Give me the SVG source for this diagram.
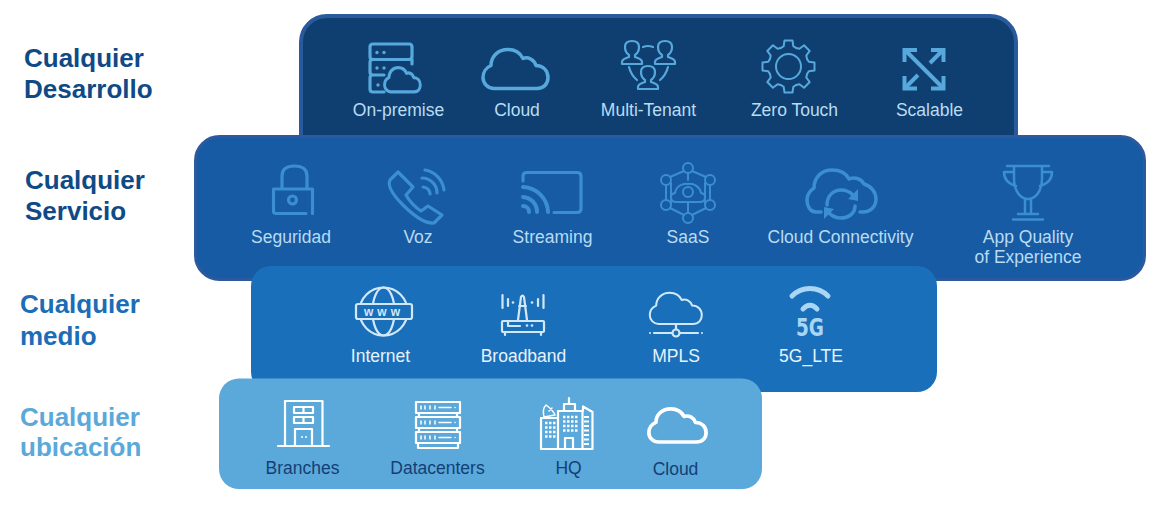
<svg xmlns="http://www.w3.org/2000/svg" width="1163" height="505" viewBox="0 0 1163 505">
<style>
text{font-family:"Liberation Sans",Arial,sans-serif}
.h{font-size:26px;font-weight:700}
.t{font-size:17.500px;text-anchor:middle}
.a{fill:#b9dcf3}.b{fill:#e6f3fc}.c{fill:#143f75}
.i{fill:none;stroke-linecap:round;stroke-linejoin:round}
.i1{stroke:#57a8dc;stroke-width:3.200}
.i2{stroke:#3b8ed2;stroke-width:3.200}
.i3{stroke:#d3e8f7;stroke-width:2.200}
.i4{stroke:#fff;stroke-width:2.200}
</style>
<defs>
<path id="cloud" d="M12,40H55C62,40 66,35 66,29C66,22 61,17 54,17C52,11 46,8 41,10C38,4 32,1 26,1C16,1 9,8 9,17C4,19 1,24 1,29C1,35 6,40 12,40Z"/>
<path id="person" d="M-3,-1C-6,-3 -7,-6 -7,-9C-7,-13 -4,-15 0,-15C4,-15 7,-13 7,-9C7,-6 6,-3 3,-1V1C6,2 10,3 10,6V8H-10V6C-10,3 -6,2 -3,1Z"/>
<path id="tooth" d="M-7.650,-18.500L-4.800,-20.300L-4,-26H4L4.800,-20.300L7.650,-18.500"/>
</defs>
<rect width="1163" height="505" fill="#fff"/>

<g id="labels">
<g id="label-desarrollo" class="h" fill="#0f4a86"><text x="24" y="67">Cualquier</text><text x="24" y="98">Desarrollo</text></g>
<g id="label-servicio" class="h" fill="#0f4a86"><text x="25" y="189">Cualquier</text><text x="25" y="220">Servicio</text></g>
<g id="label-medio" class="h" fill="#1a6db6"><text x="20" y="313">Cualquier</text><text x="20" y="345">medio</text></g>
<g id="label-ubicacion" class="h" fill="#5aa9da"><text x="20" y="426">Cualquier</text><text x="20" y="456">ubicación</text></g>
</g>

<g id="panels">
<rect id="panel-desarrollo" x="301" y="16" width="715" height="170" rx="26" fill="#0f3f70" stroke="#2a5a9e" stroke-width="4"/>
<rect id="panel-servicio" x="195.500" y="136.500" width="949" height="143" rx="24" fill="#165ba3" stroke="#2d5a9e" stroke-width="3"/>
<rect id="panel-medio" x="251" y="266" width="686" height="126" rx="20" fill="#1a6fba"/>
<rect id="panel-ubicacion" x="219" y="378.500" width="543" height="110.500" rx="20" fill="#5aa9da"/>
</g>

<g id="on-premise">
<g class="i i1"><path d="M373,59.500H409Q412,59.500 412,56.500V47Q412,44 409,44H373Q370,44 370,47V56.500Q370,59.500 373,59.500ZM373,59.500Q370,59.500 370,62.500V72Q370,75 373,75H384M412,59.500V64M373,75Q370,75 370,78V89Q370,92 373,92H384"/><use href="#cloud" transform="translate(384,67) scale(.55,.62)" stroke-width="5.300"/></g>
<g fill="#57a8dc"><circle cx="377" cy="52.500" r="1.700"/><circle cx="384" cy="52.500" r="1.700"/><circle cx="377" cy="68" r="1.700"/><circle cx="384" cy="68" r="1.700"/><circle cx="378" cy="85" r="1.700"/></g>
<text class="t a" x="398.500" y="116">On-premise</text>
</g>
<g id="cloud-dev">
<use href="#cloud" class="i i1" transform="translate(482,48.500)" style="stroke-width:3.500"/>
<text class="t a" x="517" y="116">Cloud</text>
</g>
<g id="multi-tenant">
<g class="i i1" style="stroke-width:2.200">
<use href="#person" transform="translate(632,56)"/><use href="#person" transform="translate(665,56)"/><use href="#person" transform="translate(648,81)"/>
<path d="M643,47Q648,45 653,47M629,67Q631,75 637,80M668,67Q666,75 660,80"/>
</g>
<text class="t a" x="648.500" y="116">Multi-Tenant</text>
</g>
<g id="zero-touch">
<g class="i i1" transform="translate(788.500,66.500)" style="stroke-width:2">
<use href="#tooth"/><use href="#tooth" transform="rotate(45)"/><use href="#tooth" transform="rotate(90)"/><use href="#tooth" transform="rotate(135)"/><use href="#tooth" transform="rotate(180)"/><use href="#tooth" transform="rotate(225)"/><use href="#tooth" transform="rotate(270)"/><use href="#tooth" transform="rotate(315)"/>
<circle r="12.500"/>
</g>
<text class="t a" x="794.500" y="116">Zero Touch</text>
</g>
<g id="scalable">
<g fill="none" stroke="#57a8dc" stroke-width="4">
<path d="M905,50L943,88M943,50L930,63M905,88L918,75"/>
<path d="M917,50H904.500V62M931,50H943.500V62M904.500,76V88.500H917M943.500,76V88.500H931"/>
</g>
<text class="t a" x="929.500" y="116">Scalable</text>
</g>

<g id="seguridad">
<g class="i i2">
<path d="M306,213.500H276Q273.500,213.500 273.500,211V189H312.500V213.500M282,188V176C282,170 286,166 294.500,166C303,166 307,170 307,176V188"/>
<circle cx="292.500" cy="200" r="4"/>
</g>
<text class="t a" x="291" y="243">Seguridad</text>
</g>
<g id="voz">
<g class="i i2">
<path d="M398,172L413,187L406,195C409,201 416,208 421,211L428,206L442,215L434,223C424,224 412,214 403,205C394,196 387,186 390,180Z"/>
<path d="M425,170A23,23 0 0 1 444,190M422,178A15,15 0 0 1 437,193M423,187A7,7 0 0 1 430,194"/>
</g>
<text class="t a" x="418" y="243">Voz</text>
</g>
<g id="streaming">
<g class="i i2">
<path d="M523,181V176Q523,172.500 527,172.500H577Q581,172.500 581,176V209Q581,212.500 577,212.500H554"/>
<path d="M523,187A26,26 0 0 1 548,212M523,197A15,15 0 0 1 537,212M523,206A6,6 0 0 1 529,212" style="stroke-width:4"/>
</g>
<text class="t a" x="552.500" y="243">Streaming</text>
</g>
<g id="saas">
<g class="i i2" style="stroke-width:2">
<circle cx="688" cy="168" r="5"/><circle cx="666" cy="180" r="5"/><circle cx="710" cy="180" r="5"/><circle cx="666" cy="205" r="5"/><circle cx="710" cy="205" r="5"/><circle cx="688" cy="218" r="5"/>
<circle cx="688" cy="192" r="5"/>
<path d="M684,171L670,177M692,171L706,177M666,185V200M710,185V200M670,208L684,215M706,208L692,215M688,173V180M688,202V213M671,183V203M705,183V203M676,202C670,202 669,194 675,193C676,186 683,183 688,184C694,183 700,187 701,193C707,194 706,202 700,202Z"/>
</g>
<text class="t a" x="688" y="243">SaaS</text>
</g>
<g id="cloud-connectivity">
<g class="i i2" style="stroke-width:3.500">
<path d="M821,212H816C810,212 807,206 807,200C807,194 811,190 814,188C814,177 822,170 832,170C840,170 846,173 849,179C854,177 861,178 864,184C871,186 876,192 876,199C876,207 870,212 863,212H860"/>
<path d="M827,205C827,196 833,190 841,190C847,190 850,192 853,195M855,206C855,214 848,218 841,218C835,218 832,216 829,213"/>
</g>
<path d="M848,199L858,189V201ZM834,209L824,219V207Z" fill="#3b8ed2"/>
<text class="t a" x="840.500" y="243">Cloud Connectivity</text>
</g>
<g id="app-quality">
<g class="i i2" style="stroke-width:2.500">
<path d="M1007,166H1049M1014,166V178C1014,192 1021,199 1028,199C1035,199 1042,192 1042,178V166M1014,172H1004C1004,180 1009,184 1016,186M1042,172H1052C1052,180 1047,184 1040,186M1025,199V213M1031,199V213M1018,214H1038M1013,219.500H1043"/>
</g>
<text class="t a" x="1028" y="243">App Quality</text>
<text class="t a" x="1028" y="263">of Experience</text>
</g>

<g id="internet">
<g class="i i3">
<circle cx="383.500" cy="311.500" r="24"/><ellipse cx="383.500" cy="311.500" rx="11" ry="24"/>
<rect x="356" y="304" width="56" height="15" rx="2" fill="#1a6fba"/>
</g>
<text x="384" y="316" font-size="12" font-weight="700" text-anchor="middle" letter-spacing="4" fill="#d3e8f7">www</text>
<text class="t b" x="380.500" y="362">Internet</text>
</g>
<g id="broadband">
<g class="i i3">
<rect x="502" y="321" width="42" height="11" rx="1"/>
<path d="M518,320L521,297Q522.500,294 524,297L527,320M519,306H526M508,321V326H520M505,332V335M541,332V335M502.500,295V308M543.500,295V308M508,299V306M538,299V306"/>
</g>
<g fill="#d3e8f7"><circle cx="513" cy="302.500" r="1.300"/><circle cx="532" cy="302.500" r="1.300"/><circle cx="527" cy="325.500" r="1.300"/><circle cx="532" cy="325.500" r="1.300"/></g>
<text class="t b" x="523.500" y="362">Broadband</text>
</g>
<g id="mpls">
<g class="i i3">
<use href="#cloud" transform="translate(649,292) scale(.8,.8)" stroke-width="2.500"/>
<path d="M676,324V329M654,333H672M680,333H698"/>
<circle cx="676" cy="333" r="3.500"/>
</g>
<g fill="#d3e8f7"><circle cx="650" cy="333" r="1"/><circle cx="702" cy="333" r="1"/></g>
<text class="t b" x="676" y="362">MPLS</text>
</g>
<g id="lte">
<g fill="none" stroke="#a9d6f5" stroke-width="5" stroke-linecap="round">
<path d="M792,296C802,286 818,286 828,296"/>
<path d="M803,309C807,304 813,304 817,309"/>
</g>
<text x="810" y="336" font-size="25" font-weight="700" text-anchor="middle" textLength="28" lengthAdjust="spacingAndGlyphs" fill="#a9d6f5" style="font-family:'DejaVu Sans',sans-serif">5G</text>
<text class="t b" x="811" y="362">5G_LTE</text>
</g>

<g id="branches">
<g class="i i4">
<path d="M285,446V401H322.500V446M278,446H329M295,446V429H312V446"/>
<path d="M294,407H313V413H294ZM303.500,407V413M294,417H313V423H294ZM303.500,417V423"/>
</g>
<g fill="#fff"><circle cx="302" cy="437" r="1"/><circle cx="306" cy="437" r="1"/></g>
<text class="t c" x="302.500" y="474">Branches</text>
</g>
<g id="datacenters">
<g class="i i4">
<rect x="416" y="402" width="44" height="11"/><rect x="416" y="417" width="44" height="11"/><rect x="416" y="432" width="44" height="11"/>
<path d="M419,413V417M457,413V417M419,428V432M457,428V432M418,443V448H458V443"/>
<path d="M421,406V409M425,406V409M430,406V409M435,406V409M439,407.500H451M455,407.500H455.100M421,421V424M425,421V424M430,421V424M435,421V424M439,422.500H451M455,422.500H455.100M421,436V439M425,436V439M430,436V439M435,436V439M439,437.500H451M455,437.500H455.100" style="stroke-width:1.500"/>
</g>
<text class="t c" x="437.500" y="474">Datacenters</text>
</g>
<g id="hq">
<g class="i i4">
<path d="M541,449V418H558M558,449V411H582.500V449M541,449H592.500V412L583,406.500V411M564,411V404H575V411M569,404V398M565,449V438H573V449"/>
<path d="M544,417Q542,409 546,405Q553,410 555,415ZM549,411L552,408" style="stroke-width:1.500"/>
</g>
<g fill="none" stroke="#fff" stroke-width="2.500" stroke-dasharray="2.500 1.500">
<path d="M545,423H557M545,427.500H557M545,432H557M545,436.500H557"/>
<path d="M563,417H579M563,421.500H579M563,426H579M563,430.500H579"/>
</g>
<path d="M584,417H589M584,421.500H589M584,426H589M584,430.500H589M584,435H589M584,439.500H589M584,444H589" stroke="#fff" stroke-width="2"/>
<text class="t c" x="568.500" y="474">HQ</text>
</g>
<g id="cloud-loc">
<use href="#cloud" class="i i4" transform="translate(648,408) scale(.88,.85)" style="stroke-width:4.200"/>
<text class="t c" x="675.500" y="475">Cloud</text>
</g>
</svg>
